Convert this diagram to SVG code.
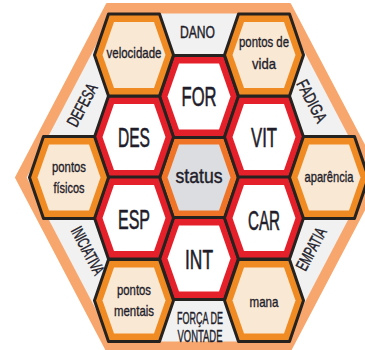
<svg xmlns="http://www.w3.org/2000/svg" xmlns:xlink="http://www.w3.org/1999/xlink" width="365" height="350" viewBox="0 0 365 350">
<style>
.cell{stroke:#26221f;stroke-width:3;stroke-linejoin:round}
.red{fill:#e4202a}
.org{fill:#f08a22}
.sorg{fill:#ef7427}
.white{fill:#ffffff}
.beige{fill:#f9e8d4}
.grayf{fill:#dcdde1}
text{font-family:"Liberation Sans",Arial,sans-serif;fill:#1f1d2a;stroke:#1f1d2a;stroke-width:0.45;text-anchor:middle}
.big{font-size:27px;stroke-width:0.6}
.sm{font-size:15px;stroke-width:0.35}
.cat{font-size:17px}
</style>
<defs>
<path id="hex" d="M-39.5,0 L-25.5,-41 L25.5,-41 L39.5,0 L25.5,41 L-25.5,41 Z"/>
<path id="hin" d="M-31.5,0 L-20,-33 L20,-33 L31.5,0 L20,33 L-20,33 Z"/>
</defs>
<g id="frame">
<polygon points="16,177.5 107,4 290,4 381,177.5 290,351 107,351" fill="#f7a76d" stroke="#f7a76d" stroke-width="2" stroke-linejoin="round"/>
<polygon points="26.7,177.5 112.7,13.5 284.3,13.5 370.3,177.5 284.3,341.5 112.7,341.5" fill="#f1f1f1"/>
</g>
<g id="cell-status" transform="translate(199,177.5)"><use xlink:href="#hex" class="cell sorg"/><use xlink:href="#hin" class="grayf"/><text y="5.5" font-size="21" textLength="47" lengthAdjust="spacingAndGlyphs">status</text></g>
<g id="cell-for" transform="translate(199,96.5)"><use xlink:href="#hex" class="cell red"/><use xlink:href="#hin" class="white"/><text class="big" y="9.5" textLength="35" lengthAdjust="spacingAndGlyphs">FOR</text></g>
<g id="cell-int" transform="translate(199,258.5)"><use xlink:href="#hex" class="cell red"/><use xlink:href="#hin" class="white"/><text class="big" y="10.5" textLength="28" lengthAdjust="spacingAndGlyphs">INT</text></g>
<g id="cell-des" transform="translate(134,137)"><use xlink:href="#hex" class="cell red"/><use xlink:href="#hin" class="white"/><text class="big" y="10" textLength="32" lengthAdjust="spacingAndGlyphs">DES</text></g>
<g id="cell-esp" transform="translate(134,218)"><use xlink:href="#hex" class="cell red"/><use xlink:href="#hin" class="white"/><text class="big" y="11" textLength="32" lengthAdjust="spacingAndGlyphs">ESP</text></g>
<g id="cell-vit" transform="translate(264,137)"><use xlink:href="#hex" class="cell red"/><use xlink:href="#hin" class="white"/><text class="big" y="10" textLength="26" lengthAdjust="spacingAndGlyphs">VIT</text></g>
<g id="cell-car" transform="translate(264,218)"><use xlink:href="#hex" class="cell red"/><use xlink:href="#hin" class="white"/><text class="big" y="11.5" textLength="32" lengthAdjust="spacingAndGlyphs">CAR</text></g>
<g id="cell-velocidade" transform="translate(134,55)"><use xlink:href="#hex" class="cell org"/><use xlink:href="#hin" class="beige"/><text class="sm" y="3" textLength="55" lengthAdjust="spacingAndGlyphs">velocidade</text></g>
<g id="cell-pontosvida" transform="translate(264,55)"><use xlink:href="#hex" class="cell org"/><use xlink:href="#hin" class="beige"/><text class="sm" y="-8.5" textLength="50" lengthAdjust="spacingAndGlyphs">pontos de</text><text class="sm" y="13.5" textLength="24" lengthAdjust="spacingAndGlyphs">vida</text></g>
<g id="cell-pontosfisicos" transform="translate(69,177.5)"><use xlink:href="#hex" class="cell org"/><use xlink:href="#hin" class="beige"/><text class="sm" y="-6" textLength="34" lengthAdjust="spacingAndGlyphs">pontos</text><text class="sm" y="15.5" textLength="31" lengthAdjust="spacingAndGlyphs">físicos</text></g>
<g id="cell-aparencia" transform="translate(329,177.5)"><use xlink:href="#hex" class="cell org"/><use xlink:href="#hin" class="beige"/><text class="sm" y="4" textLength="49" lengthAdjust="spacingAndGlyphs">aparência</text></g>
<g id="cell-pontosmentais" transform="translate(134,300.5)"><use xlink:href="#hex" class="cell org"/><use xlink:href="#hin" class="beige"/><text class="sm" y="-5.5" textLength="34" lengthAdjust="spacingAndGlyphs">pontos</text><text class="sm" y="15.5" textLength="40" lengthAdjust="spacingAndGlyphs">mentais</text></g>
<g id="cell-mana" transform="translate(264,300.5)"><use xlink:href="#hex" class="cell org"/><use xlink:href="#hin" class="beige"/><text class="sm" y="6" textLength="29" lengthAdjust="spacingAndGlyphs">mana</text></g>
<g id="labels">
<text class="cat" x="197.5" y="38" textLength="35" lengthAdjust="spacingAndGlyphs">DANO</text>
<text class="cat" x="200" y="323.5" font-size="16" textLength="46" lengthAdjust="spacingAndGlyphs">FORÇA DE</text>
<text class="cat" x="200" y="342" font-size="16" textLength="45" lengthAdjust="spacingAndGlyphs">VONTADE</text>
<text class="cat" transform="translate(82,105) rotate(-62)" y="6" textLength="46" lengthAdjust="spacingAndGlyphs">DEFESA</text>
<text class="cat" transform="translate(312,101) rotate(62)" y="6" textLength="46" lengthAdjust="spacingAndGlyphs">FADIGA</text>
<text class="cat" transform="translate(87,251) rotate(62)" y="5" font-size="14" textLength="52" lengthAdjust="spacingAndGlyphs">INICIATIVA</text>
<text class="cat" transform="translate(311,249) rotate(-62)" y="6" textLength="46" lengthAdjust="spacingAndGlyphs">EMPATIA</text>
</g>
</svg>
